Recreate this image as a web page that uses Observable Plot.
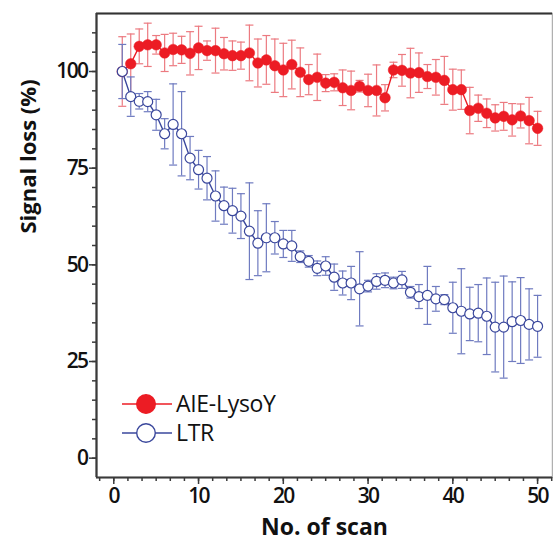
<!DOCTYPE html>
<html><head><meta charset="utf-8">
<script src="https://cdn.jsdelivr.net/npm/d3@7"></script>
<script src="https://cdn.jsdelivr.net/npm/@observablehq/plot@0.6"></script>
<style>
body{margin:0;background:#fff;}
#wrap{position:relative;width:553px;height:546px;}
#wrap svg.legend{position:absolute;left:0;top:0;}
.chart g[aria-label="y-axis tick label"] text, .chart g[aria-label="x-axis tick label"] text{letter-spacing:-1.6px;}
</style></head><body><div id="wrap"></div><script>
const scans = [1,2,3,4,5,6,7,8,9,10,11,12,13,14,15,16,17,18,19,20,21,22,23,24,25,26,27,28,29,30,31,32,33,34,35,36,37,38,39,40,41,42,43,44,45,46,47,48,49,50];
const aie = [100,102.0,106.5,106.9,106.9,104.8,105.7,105.6,104.7,106.1,105.4,105.4,104.6,104.1,104.1,104.8,102.2,103.0,101.5,100.4,101.8,99.8,97.9,98.5,97.0,97.2,95.8,95.1,96.2,95.1,95.1,93.2,100.4,100.3,99.6,99.7,98.7,98.5,97.7,95.3,95.3,89.9,90.5,89.2,88.0,88.4,87.5,88.5,87.3,85.3];
const aieErr = [9,7.7,4.5,5.6,2.4,4.8,4.2,3.5,5.6,5.6,2.5,5.8,4.2,3.8,3.5,7.2,6.2,6.3,6.9,6.9,6.3,6.3,3.9,6,2.2,2.2,4.6,5,1.5,4.2,6.6,3.4,2,4.1,6.4,5.1,3.1,4.6,6.2,5.3,5.1,6,3.4,3.7,3.4,3.6,4.2,3.1,6,4.4];
const ltr = [100,93.5,92.3,92.2,88.8,83.9,86.3,83.9,77.6,74.6,72.4,67.8,65.3,64.0,62.6,58.7,55.6,57.0,57.0,55.4,54.9,52.1,50.9,49.1,49.7,46.8,45.3,45.3,43.8,44.5,45.7,46.0,45.3,46.1,42.9,41.8,42.1,41.2,41.0,38.9,38.0,37.3,37.5,36.7,33.9,33.9,35.3,35.6,34.6,34.1];
const ltrErr = [7,5.1,2,2.6,4,3.9,10.5,10.9,5.6,5,5.6,6.5,4.8,5.8,5.8,12.5,8.4,8.8,4.2,3.5,4,1.5,1.5,1.9,2.4,3.4,3.1,4.3,9.6,1.5,2,1.9,1.5,2.2,1.5,3.1,7.5,3.2,1.3,6.6,11,6.9,7.4,9.9,11.6,13.2,10.3,11.1,9.2,8.0];
const seriesNames = ["AIE-LysoY","LTR"];
const xTicks = [0,10,20,30,40,50];
const yTicks = [0,25,50,75,100];
const xLabel = "No. of scan";
const yLabel = "Signal loss (%)";
const xDomain = [-2.04, 51.76];
const yDomain = [-5, 115];

const red = "#ec1c24", redBar = "#ec7a80";
const blue = "#3a479c", blueBar = "#6f7bc0";
const axisColor = "#3a3a3a";

const rows = scans.map((s,i)=>({scan:s, aie:aie[i], aieErr:aieErr[i], ltr:ltr[i], ltrErr:ltrErr[i]}));
const xMinor = d3.range(-1, 32).map(k => k*5/3).filter(v => v>=xDomain[0] && v<=xDomain[1]);
const yMinor = d3.range(0, 23).map(k => k*5).filter(v => v>=yDomain[0] && v<=yDomain[1]);
const hCap = {draw(ctx, size){ const r = Math.sqrt(size/Math.PI); ctx.moveTo(-r,0); ctx.lineTo(r,0);} };

const font = "'Open Sans', sans-serif";
const chart = Plot.plot({
  width:553, height:546, marginLeft:96, marginTop:13, marginRight:1, marginBottom:69,
  className:"chart",
  style:{fontFamily:font, background:"#fff", color:"#111"},
  x:{domain:xDomain}, y:{domain:yDomain},
  marks:[
    Plot.frame({stroke:"#b0b0b0", strokeWidth:1.5}),
    Plot.ruleX(rows, {x:"scan", y1:d=>d.aie-d.aieErr, y2:d=>d.aie+d.aieErr, stroke:redBar, strokeWidth:1.2}),
    Plot.dot(rows, {x:"scan", y:d=>d.aie+d.aieErr, symbol:hCap, r:4, stroke:redBar, strokeWidth:1.2}),
    Plot.dot(rows, {x:"scan", y:d=>d.aie-d.aieErr, symbol:hCap, r:4, stroke:redBar, strokeWidth:1.2}),
    Plot.ruleX(rows, {x:"scan", y1:d=>d.ltr-d.ltrErr, y2:d=>d.ltr+d.ltrErr, stroke:blueBar, strokeWidth:1.2}),
    Plot.dot(rows, {x:"scan", y:d=>d.ltr+d.ltrErr, symbol:hCap, r:4, stroke:blueBar, strokeWidth:1.2}),
    Plot.dot(rows, {x:"scan", y:d=>d.ltr-d.ltrErr, symbol:hCap, r:4, stroke:blueBar, strokeWidth:1.2}),
    Plot.line(rows, {x:"scan", y:"aie", stroke:red, strokeWidth:1.4}),
    Plot.line(rows, {x:"scan", y:"ltr", stroke:blue, strokeWidth:1.4}),
    Plot.dot(rows, {x:"scan", y:"aie", r:5.3, fill:red, stroke:red, strokeWidth:0.5}),
    Plot.dot(rows, {x:"scan", y:"ltr", r:5, fill:"white", stroke:blue, strokeWidth:1.2}),
    Plot.ruleY([yDomain[1]], {stroke:"#333", strokeWidth:2}),
    Plot.ruleX([xDomain[0]], {stroke:axisColor, strokeWidth:2.2}),
    Plot.ruleY([yDomain[0]], {stroke:axisColor, strokeWidth:2.2}),
    Plot.axisY(yMinor, {anchor:"left", tickSize:4, text:null, label:null, stroke:axisColor, strokeWidth:1.5}),
    Plot.axisY(yTicks, {anchor:"left", tickSize:7, tickPadding:2, fontSize:21, fontWeight:600, label:null, stroke:axisColor, strokeWidth:1.5}),
    Plot.axisX(xMinor, {anchor:"bottom", tickSize:4, text:null, label:null, stroke:axisColor, strokeWidth:1.5}),
    Plot.axisX(xTicks, {anchor:"bottom", tickSize:7, tickPadding:4, fontSize:21, fontWeight:600, label:null, stroke:axisColor, strokeWidth:1.5}),
    Plot.text([yLabel], {frameAnchor:"left", rotate:-90, dx:-68, dy:-12, fontSize:22, fontWeight:700, fill:"#111"}),
    Plot.text([xLabel], {frameAnchor:"bottom", dy:57, fontSize:23, fontWeight:700, fill:"#111"})
  ]
});
const wrap = document.getElementById("wrap");
wrap.appendChild(chart);

// legend
const legendItems = [
  {name:seriesNames[0], stroke:red, fill:red},
  {name:seriesNames[1], stroke:blue, fill:"white"}
];
const lg = d3.select(wrap).append("svg").attr("class","legend").attr("width",553).attr("height",546)
  .style("font-family", font);
const item = lg.selectAll("g").data(legendItems).join("g")
  .attr("transform",(d,i)=>`translate(122,${404 + i*29})`);
item.append("line").attr("x1",0).attr("x2",50).attr("y1",0).attr("y2",0).attr("stroke",d=>d.stroke).attr("stroke-width",1.4);
item.append("circle").attr("cx",24).attr("cy",0).attr("r",9.3).attr("fill",d=>d.fill).attr("stroke",d=>d.stroke).attr("stroke-width",1.4);
item.append("text").attr("x",54).attr("y",0).attr("dy","0.35em").attr("font-size",23).attr("font-weight",500)
  .attr("letter-spacing","-0.3px").attr("fill","#111").text(d=>d.name);
</script></body></html>
